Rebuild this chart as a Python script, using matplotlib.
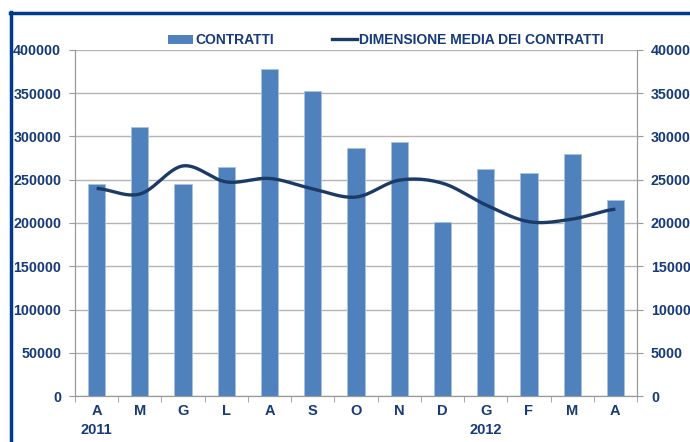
import matplotlib.pyplot as plt
import numpy as np
from matplotlib.lines import Line2D
from matplotlib.patches import Patch

plt.rcParams['font.family'] = ['Liberation Sans', 'DejaVu Sans']

# data
months = ["A", "M", "G", "L", "A", "S", "O", "N", "D", "G", "F", "M", "A"]
years = ["2011", "", "", "", "", "", "", "", "", "2012", "", "", ""]
contratti = [245000, 311000, 245000, 265000, 378000, 353000, 287000,
             294000, 201000, 262000, 258000, 280000, 227000]
dimensione = [24000, 23350, 26600, 24750, 25150, 23950, 23000,
              24950, 24600, 22100, 20150, 20450, 21600]

text_col = "#173A7A"
bar_col = "#4F81BD"
line_col = "#1B3A66"
grid_col = "#B4B4B4"


def smooth(xs, ys, n=30):
    # Catmull-Rom curve through the points (like Excel's smoothed line)
    xs = np.asarray(xs, float)
    ys = np.asarray(ys, float)
    px = np.concatenate([[2 * xs[0] - xs[1]], xs, [2 * xs[-1] - xs[-2]]])
    py = np.concatenate([[ys[0]], ys, [ys[-1]]])
    outx, outy = [], []
    for i in range(1, len(px) - 2):
        t = np.linspace(0, 1, n)
        for p, out in ((px, outx), (py, outy)):
            p0, p1, p2, p3 = p[i - 1], p[i], p[i + 1], p[i + 2]
            out.extend(0.5 * ((2 * p1) + (-p0 + p2) * t
                              + (2 * p0 - 5 * p1 + 4 * p2 - p3) * t ** 2
                              + (-p0 + 3 * p1 - 3 * p2 + p3) * t ** 3))
    return outx, outy


fig = plt.figure(figsize=(6.9, 4.42), dpi=100)
ax = fig.add_axes([75 / 690, 46 / 442, 562 / 690, 346 / 442])
x = np.arange(len(months))

ax.bar(x, contratti, width=0.4, color=bar_col, edgecolor="#A9C2E2", linewidth=0.6, zorder=2)
ax.set_xlim(-0.5, len(months) - 0.5)
ax.set_ylim(0, 400000)
ax.set_yticks(np.arange(0, 400001, 50000))
ax.grid(axis="y", color=grid_col, linewidth=1)
ax.set_axisbelow(True)

ax.set_xticks(x)
ax.set_xticklabels([m + "\n" + y for m, y in zip(months, years)],
                   fontsize=10.5, fontweight="bold", color=text_col, va="top",
                   linespacing=1.45)
ax.set_xticks(np.arange(-0.5, len(months), 1), minor=True)
ax.tick_params(axis="x", which="major", length=0, pad=6)
ax.tick_params(axis="x", which="minor", length=4, color="#999999")
ax.tick_params(axis="y", length=4, color="#999999", pad=6,
               labelsize=10.3, labelcolor=text_col)
for lab in ax.get_yticklabels():
    lab.set_fontweight("bold")

ax.spines["top"].set_visible(False)
for s in ["left", "bottom", "right"]:
    ax.spines[s].set_color("#999999")

ax2 = ax.twinx()
sx, sy = smooth(x, dimensione)
ax2.plot(sx, sy, color=line_col, linewidth=2.4, solid_capstyle="butt", zorder=3)
ax2.set_ylim(0, 40000)
ax2.set_yticks(np.arange(0, 40001, 5000))
ax2.tick_params(axis="y", length=4, color="#999999", pad=6,
                labelsize=10.3, labelcolor=text_col)
for lab in ax2.get_yticklabels():
    lab.set_fontweight("bold")
ax2.spines["top"].set_visible(False)
for s in ["left", "bottom", "right"]:
    ax2.spines[s].set_color("#999999")

handles = [Patch(facecolor=bar_col, edgecolor="none"),
           Line2D([0], [0], color=line_col, linewidth=2.4)]
fig.legend(handles, ["CONTRATTI", "DIMENSIONE MEDIA DEI CONTRATTI"],
           loc="center", bbox_to_anchor=(386 / 690, 1 - 40 / 442), ncol=2,
           frameon=False, handlelength=1.8, handleheight=0.6,
           columnspacing=4.2, handletextpad=0.15,
           prop={"size": 10, "weight": "bold"}, labelcolor=text_col)

# dark blue frame at the top and left
frame_col = "#003A8C"
fig.add_artist(Line2D([10 / 690, 1], [1 - 13 / 442, 1 - 13 / 442],
                      color=frame_col, linewidth=2.5, transform=fig.transFigure))
fig.add_artist(Line2D([10.5 / 690, 10.5 / 690], [0, 1 - 12 / 442],
                      color=frame_col, linewidth=2.5, transform=fig.transFigure))

fig.savefig("out.png", dpi=100)
